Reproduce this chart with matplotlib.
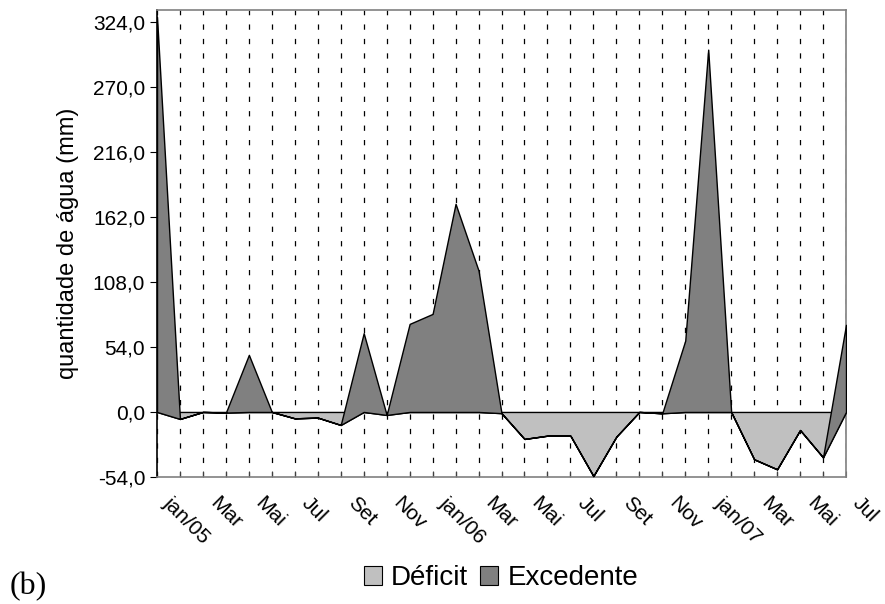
import matplotlib
matplotlib.use("Agg")
import matplotlib.pyplot as plt
import matplotlib.transforms as mtransforms
from matplotlib.patches import Patch
from matplotlib.ticker import FuncFormatter
import numpy as np

plt.rcParams['font.family'] = ['Liberation Sans', 'DejaVu Sans']
plt.rcParams['lines.scale_dashes'] = False

months = ['jan/05', 'fev', 'Mar', 'abr', 'Mai', 'jun', 'Jul', 'ago', 'Set', 'out', 'Nov', 'dez',
          'jan/06', 'fev', 'Mar', 'abr', 'Mai', 'jun', 'Jul', 'ago', 'Set', 'out', 'Nov', 'dez',
          'jan/07', 'fev', 'Mar', 'abr', 'Mai', 'jun', 'Jul']
deficit = [0, -5.8, 0, -0.5, 0, 0, -5.3, -4.7, -10.8, 0, -2.5, 0,
           0, 0, 0, -1.0, -22.4, -19.7, -19.7, -53.2, -20.5, 0, -1.1, 0,
           0, 0, -39.3, -47.6, -15.0, -37.7, 0]
excedente = [328, 0, 0, 0, 47.4, 0, 0, 0, 0, 65.4, 0, 73.1,
             81.4, 172.8, 117.4, 0, 0, 0, 0, 0, 0, 0, 0, 59.2,
             300.8, 0, 0, 0, 0, 0, 72.3]
yticks = [-54, 0, 54, 108, 162, 216, 270, 324]

x = np.arange(len(months))
d = np.array(deficit)
e = np.array(excedente)

fig = plt.figure(figsize=(8.85, 6.04), dpi=100)
ax = fig.add_axes([157/885, 1-477/604, (846-157)/885, (477-10)/604])

light = '#C0C0C0'
dark = '#808080'
ax.fill_between(x, 0, d, facecolor=light, edgecolor='black', linewidth=1.0, zorder=3)
ax.fill_between(x, d, d + e, facecolor=dark, edgecolor='black', linewidth=1.0, zorder=4)

ax.set_xlim(0, len(months) - 1)
ax.set_ylim(-54, 333.7)
ax.set_yticks(yticks)
ax.yaxis.set_major_formatter(FuncFormatter(lambda v, p: f"{v:.1f}".replace('.', ',')))

ax.set_xticks(x)
ax.set_xticklabels([m if i % 2 == 0 else '' for i, m in enumerate(months)])
ax.grid(axis='x', color='black', linewidth=0.9, linestyle=(0, (3.8, 6.6)), zorder=1)
ax.set_axisbelow(True)

ax.tick_params(axis='y', direction='out', length=5, width=0.8, pad=3.5, labelsize=15)
ax.tick_params(axis='x', direction='in', length=4, width=0.8, pad=16.5, labelsize=15, color='#404040')
offset = mtransforms.ScaledTranslation(7/72, 0, fig.dpi_scale_trans)
for lab in ax.get_xticklabels():
    lab.set_rotation(-45)
    lab.set_rotation_mode('anchor')
    lab.set_ha('left')
    lab.set_va('center')
    lab.set_transform(lab.get_transform() + offset)

for side in ['top', 'right', 'bottom']:
    ax.spines[side].set_color('#808080')
    ax.spines[side].set_linewidth(1.2)
ax.spines['left'].set_color('black')
ax.spines['left'].set_linewidth(1.2)

ax.set_ylabel('quantidade de água (mm)', fontsize=17)
ax.yaxis.set_label_coords(-0.113, 0.5)

handles = [Patch(facecolor=light, edgecolor='black', linewidth=0.8, label='Déficit'),
           Patch(facecolor=dark, edgecolor='black', linewidth=0.8, label='Excedente')]
fig.legend(handles=handles, loc='center', bbox_to_anchor=(501/885, 1-578/604), ncol=2,
           frameon=False, fontsize=20, handlelength=0.65, handleheight=0.65,
           handletextpad=0.32, columnspacing=0.45, borderpad=0)

fig.text(10/885, 3/604, '(b)', fontsize=23, family=['Liberation Serif', 'DejaVu Serif'],
         ha='left', va='bottom')

fig.savefig('out.png', dpi=100)
